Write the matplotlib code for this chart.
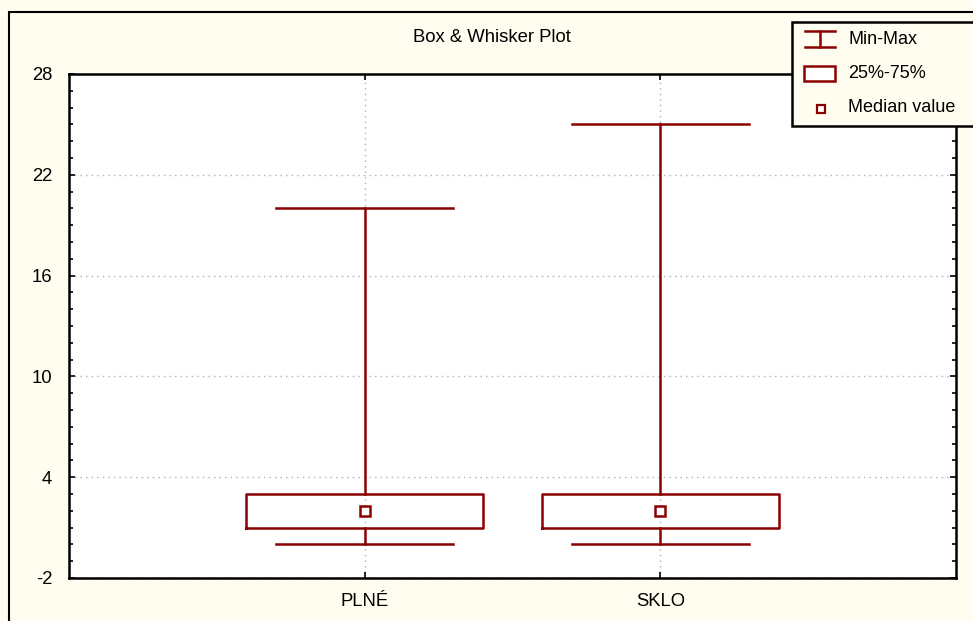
import matplotlib
matplotlib.use("Agg")
import matplotlib.pyplot as plt
from matplotlib.patches import Rectangle
from matplotlib.ticker import MultipleLocator, FixedLocator

plt.rcParams['font.family'] = ['Liberation Sans', 'DejaVu Sans']

# ---- data ----
categories = ["PLNÉ", "SKLO"]
mins = [0, 0]
q1 = [1, 1]
medians = [2, 2]
q3 = [3, 3]
maxs = [20, 25]
yticks = [-2, 4, 10, 16, 22, 28]
title = "Box & Whisker Plot"
legend_labels = ["Min-Max", "25%-75%", "Median value"]

DR = '#8b0000'
CREAM = '#fffcf0'
W, H = 973, 621

fig = plt.figure(figsize=(W / 100, H / 100), dpi=100, facecolor=CREAM)

# outer frame
fig.add_artist(Rectangle((9 / W, -0.1), 1.2, 1 - 12 / H + 0.1, transform=fig.transFigure,
                         fill=False, edgecolor='black', linewidth=1.5, zorder=-1))

ax = fig.add_axes([69 / W, 1 - 578 / H, 887 / W, 504 / H])
ax.set_facecolor('white')

positions = list(range(1, len(categories) + 1))
stats = [dict(label=c, q1=a, q3=b, med=m, whislo=lo, whishi=hi, fliers=[])
         for c, a, b, m, lo, hi in zip(categories, q1, q3, medians, mins, maxs)]
ax.bxp(stats, positions=positions, widths=0.8, capwidths=0.6, showfliers=False,
       boxprops=dict(color=DR, linewidth=1.8),
       whiskerprops=dict(color=DR, linewidth=1.8),
       capprops=dict(color=DR, linewidth=1.8),
       medianprops=dict(linewidth=0))
ax.plot(positions, medians, 's', mfc='white', mec=DR, ms=7, mew=1.8, zorder=4)

ax.set_xlim(0, len(categories) + 1)
ax.set_ylim(yticks[0], yticks[-1])
ax.yaxis.set_major_locator(FixedLocator(yticks))
ax.yaxis.set_minor_locator(MultipleLocator(1))
ax.set_xticks(positions)
ax.set_xticklabels(categories)
ax.set_yticklabels([str(t) for t in yticks])

ax.set_axisbelow(True)
ax.grid(True, which='major', linestyle=(0, (1, 3)), color='#b0b0b0', linewidth=1)

ax.tick_params(which='both', direction='in', left=True, right=True, top=True, bottom=True,
               labelsize=13.3, colors='black')
ax.tick_params(which='major', length=4, width=1.2)
ax.tick_params(which='minor', length=3, width=1.2)
ax.tick_params(axis='y', pad=12)
ax.tick_params(axis='x', pad=11)
for s in ax.spines.values():
    s.set_linewidth(1.8)
    s.set_color('black')

fig.text(492 / W, 1 - 42 / H, title, ha='center', va='baseline', fontsize=13.3)

# legend overlay (pixel coordinates)
ov = fig.add_axes([0, 0, 1, 1], zorder=10)
ov.set_xlim(0, W)
ov.set_ylim(H, 0)
ov.axis('off')
ov.patch.set_alpha(0)
ov.add_patch(Rectangle((792, 22), 200, 104, facecolor=CREAM, edgecolor='black', linewidth=1.8))
# Min-Max icon
ov.plot([805, 835], [31, 31], color=DR, lw=1.8)
ov.plot([805, 835], [47, 47], color=DR, lw=1.8)
ov.plot([820, 820], [31, 47], color=DR, lw=1.8)
# box icon
ov.add_patch(Rectangle((804, 66), 31, 15, facecolor='white', edgecolor=DR, linewidth=1.8))
# median icon
ov.plot([820.5], [108.5], 's', mfc='white', mec=DR, ms=5.5, mew=1.6)
for y, lab in zip([40, 73, 107], legend_labels):
    ov.text(848, y, lab, ha='left', va='center', fontsize=13)

fig.savefig('out.png', dpi=100, facecolor=CREAM)
